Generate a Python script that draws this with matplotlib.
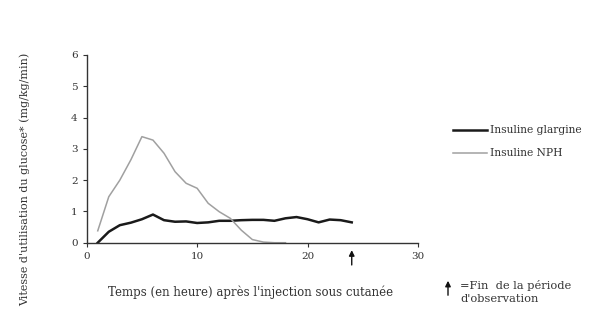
import matplotlib
matplotlib.use("Agg")
import matplotlib.pyplot as plt
from matplotlib.patches import FancyArrowPatch
from matplotlib.lines import Line2D

hours_glar = [1, 2, 3, 4, 5, 6, 7, 8, 9, 10, 11, 12, 13, 14, 15, 16, 17, 18, 19, 20, 21, 22, 23, 24]
glargine = [0.0, 0.35, 0.56, 0.64, 0.75, 0.9, 0.72, 0.67, 0.68, 0.63, 0.65, 0.7, 0.7, 0.72, 0.73, 0.73, 0.7, 0.78, 0.82, 0.75, 0.65, 0.74, 0.72, 0.65]
hours_nph = [1, 2, 3, 4, 5, 6, 7, 8, 9, 10, 11, 12, 13, 14, 15, 16, 17, 18]
nph = [0.38, 1.47, 2.0, 2.65, 3.39, 3.28, 2.86, 2.27, 1.9, 1.74, 1.26, 0.99, 0.78, 0.4, 0.1, 0.02, 0.0, 0.0]
xticks = [0, 10, 20, 30]
yticks = [0, 1, 2, 3, 4, 5, 6]
end_obs = 24

plt.rcParams['font.family'] = ['DejaVu Serif']
txt = '#333333'
W, H = 600, 327
fig = plt.figure(figsize=(6, 3.27), dpi=100)
ax = fig.add_axes([86.7 / W, 1 - 242.7 / H, (418 - 86.7) / W, (242.7 - 55) / H])
ax.plot(hours_glar, glargine, color='#1a1a1a', lw=1.8, label='Insuline glargine')
ax.plot(hours_nph, nph, color='#a0a0a0', lw=1.1, label='Insuline NPH')
ax.set_xlim(0, 30)
ax.set_ylim(0, 6)
ax.set_xticks(xticks)
ax.set_yticks(yticks)
for s in ['top', 'right']:
    ax.spines[s].set_visible(False)
for s in ['left', 'bottom']:
    ax.spines[s].set_color('#333333')
    ax.spines[s].set_linewidth(1.0)
ax.tick_params(labelsize=7.5, colors='#333333', length=3, width=0.8, labelcolor=txt)

fig.text(251 / W, 1 - 292 / H, "Temps (en heure) après l'injection sous cutanée",
         fontsize=8.5, color=txt, ha='center', va='center')
fig.text(25 / W, 1 - 179 / H, "Vitesse d'utilisation du glucose* (mg/kg/min)",
         fontsize=8, color=txt, ha='center', va='center', rotation=90)

# end of observation arrow on the axis
ax.annotate('', xy=(end_obs, -0.15), xytext=(end_obs, -0.8), annotation_clip=False,
            arrowprops=dict(arrowstyle='-|>', color='#111111', lw=1.0, mutation_scale=8))

# legend drawn manually
for yy, c, lw, lab in [(130, '#1a1a1a', 1.8, 'Insuline glargine'), (153, '#a0a0a0', 1.1, 'Insuline NPH')]:
    fig.add_artist(Line2D([453 / W, 487 / W], [1 - yy / H, 1 - yy / H], color=c, lw=lw))
    fig.text(490 / W, 1 - yy / H, lab, fontsize=7.7, color=txt, ha='left', va='center')

fig.add_artist(FancyArrowPatch((448 / W, 1 - 298 / H), (448 / W, 1 - 278 / H), transform=fig.transFigure,
                               arrowstyle='-|>', mutation_scale=8, color='#111111', lw=1.0))
fig.text(460 / W, 1 - 292 / H, "=Fin  de la période\nd'observation", fontsize=8.2, color=txt,
         va='center', ha='left', linespacing=1.4)

fig.savefig('out.png', dpi=100)
